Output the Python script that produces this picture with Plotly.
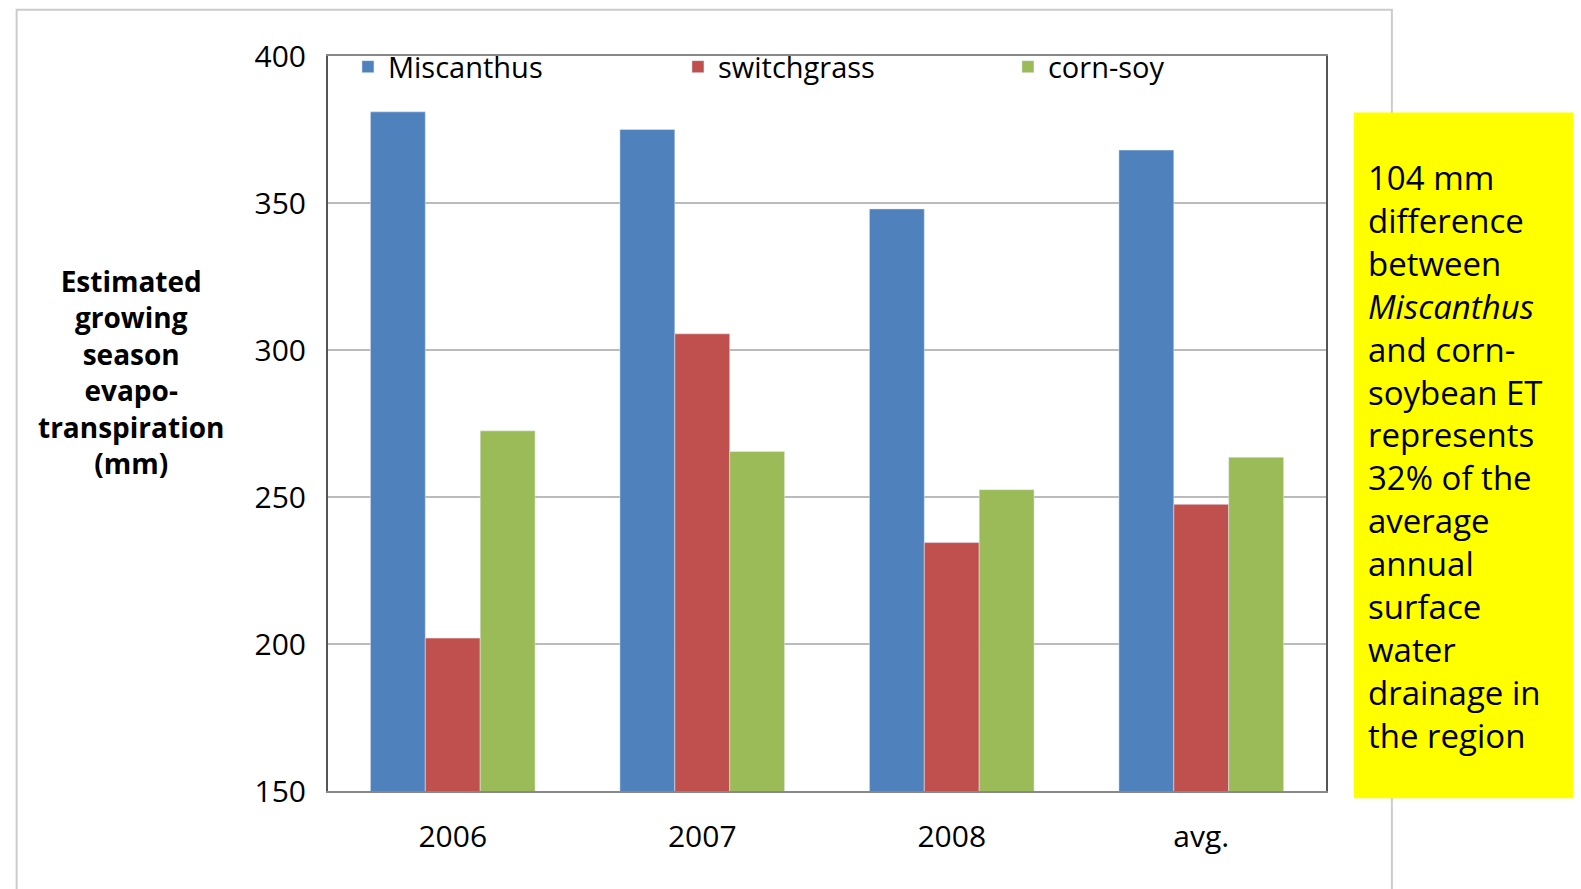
import plotly.graph_objects as go

categories = ["2006", "2007", "2008", "avg."]
miscanthus = [381, 375, 348, 368]
switchgrass = [202, 305.5, 234.5, 247.5]
corn_soy = [272.5, 265.5, 252.5, 263.5]
y_ticks = [150, 200, 250, 300, 350, 400]

fig = go.Figure()
fig.add_bar(x=categories, y=miscanthus, name="Miscanthus", marker_color="#4f81bd")
fig.add_bar(x=categories, y=switchgrass, name="switchgrass", marker_color="#c0504d")
fig.add_bar(x=categories, y=corn_soy, name="corn-soy", marker_color="#9bbb59")

font = "Open Sans"
fig.update_layout(
    width=1581, height=889, paper_bgcolor="white", plot_bgcolor="white",
    margin=dict(l=320, r=263, t=48, b=106),
    barmode="group", bargap=0.34, bargroupgap=0,
    font=dict(family=font, size=28, color="black"),
    legend=dict(orientation="h", x=0.02, y=1.02, xanchor="left", yanchor="top",
                font=dict(size=29), bgcolor="rgba(0,0,0,0)", entrywidth=285,
                itemwidth=30, tracegroupgap=0),
    xaxis=dict(showline=True, linecolor="#888", linewidth=2, mirror=True,
               tickfont=dict(size=30), ticks="outside", ticklen=18, tickcolor="white"),
    yaxis=dict(range=[150, 400], tickvals=y_ticks, showgrid=True, gridcolor="#bbb",
               gridwidth=2, showline=True, linecolor="#555", linewidth=2, mirror=True,
               tickfont=dict(size=30), ticks="outside", ticklen=14, tickcolor="white"),
    shapes=[
        dict(type="rect", xref="paper", yref="paper", x0=-0.312, x1=1.066, y0=-0.2, y1=1.063,
             line=dict(color="#ccc", width=2), fillcolor="rgba(0,0,0,0)", layer="below"),
        dict(type="rect", xref="paper", yref="paper", x0=1.028, x1=1.253, y0=-0.01, y1=0.923,
             line=dict(width=0), fillcolor="#ffff00"),
    ],
    annotations=[
        dict(xref="paper", yref="paper", x=-0.197, y=0.57, xanchor="center", yanchor="middle",
             showarrow=False, align="center", font=dict(size=28),
             text="<b>Estimated<br>growing<br>season<br>evapo-<br>transpiration<br>(mm)</b>"),
        dict(xref="paper", yref="paper", x=1.04, y=0.455, xanchor="left", yanchor="middle",
             showarrow=False, align="left", font=dict(size=33),
             text="104 mm<br>difference<br>between<br><i>Miscanthus</i><br>and corn-<br>soybean ET<br>represents<br>32% of the<br>average<br>annual<br>surface<br>water<br>drainage in<br>the region"),
    ],
)
fig.write_html("out.html")
